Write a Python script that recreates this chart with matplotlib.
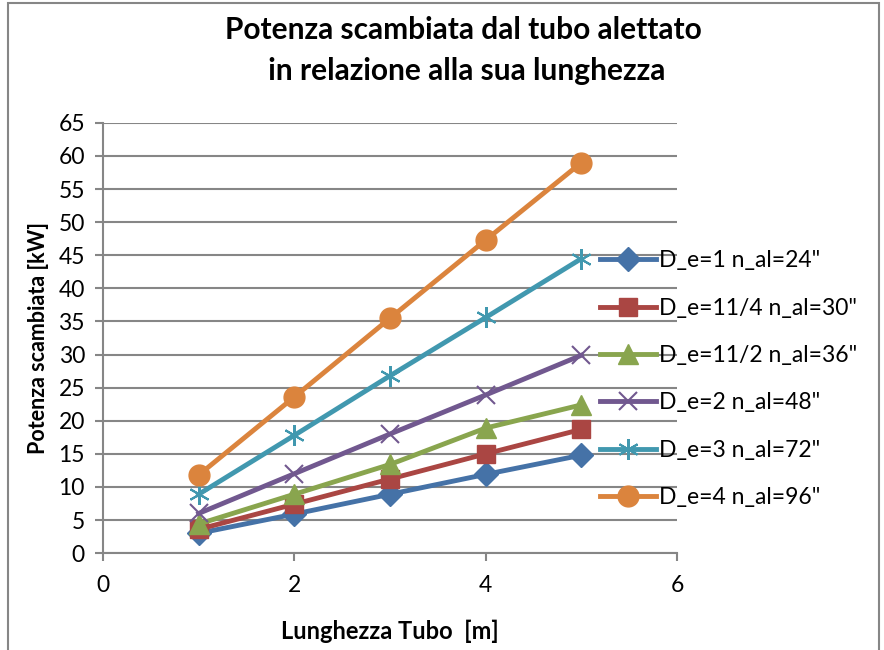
import matplotlib
matplotlib.use('Agg')
import matplotlib.pyplot as plt
from matplotlib.patches import Rectangle

plt.rcParams['font.family'] = ['Lato', 'DejaVu Sans']

# dati
lunghezza = [1, 2, 3, 4, 5]
etichette = ['D_e=1 n_al=24"', 'D_e=11/4 n_al=30"', 'D_e=11/2 n_al=36"',
             'D_e=2 n_al=48"', 'D_e=3 n_al=72"', 'D_e=4 n_al=96"']
p_de1 = [3.0, 5.9, 8.9, 11.9, 14.8]
p_de114 = [3.6, 7.4, 11.2, 15.0, 18.7]
p_de112 = [4.4, 8.9, 13.4, 18.9, 22.4]
p_de2 = [6.0, 12.0, 18.0, 23.9, 29.9]
p_de3 = [8.9, 17.8, 26.8, 35.6, 44.5]
p_de4 = [11.8, 23.6, 35.5, 47.3, 59.0]
serie = [p_de1, p_de114, p_de112, p_de2, p_de3, p_de4]

colori = ['#4572A7', '#AA4643', '#89A54E', '#71588F', '#4198AF', '#DB843D']
marker = ['D', 's', '^', 'x', (6, 2, 0), 'o']
msize = [12, 13, 14, 13, 15, 15]

fig = plt.figure(figsize=(8.84, 6.5), dpi=100)
# cornice grigia del grafico
fig.patches.append(Rectangle((8 / 884, -0.01), 871 / 884, 1.005, transform=fig.transFigure,
                             fill=False, edgecolor='#868686', lw=1.5))
ax = fig.add_axes([0.1165, 0.149, 0.6495, 0.662])

for y, lab, c, m, ms in zip(serie, etichette, colori, marker, msize):
    ax.plot(lunghezza, y, color=c, lw=3.5, marker=m, markersize=ms,
            markeredgewidth=1.5 if m in ('x', (6, 2, 0)) else 1,
            markeredgecolor=c, label=lab, zorder=3)

ax.set_xlim(0, 6)
ax.set_ylim(0, 65)
ax.set_xticks([0, 2, 4, 6])
ax.set_yticks(range(0, 66, 5))
ax.grid(axis='y', color='#868686', lw=1.5)
ax.set_axisbelow(True)
for s in ['top', 'right']:
    ax.spines[s].set_visible(False)
for s in ['left', 'bottom']:
    ax.spines[s].set_color('#868686')
    ax.spines[s].set_linewidth(1.5)
ax.tick_params(colors='#868686', labelcolor='black', labelsize=16.5, width=1.5, length=6)
ax.tick_params(axis='y', pad=7)
ax.tick_params(axis='x', pad=10)

ax.set_xlabel('Lunghezza Tubo  [m]', fontsize=17, fontweight='bold', labelpad=17)
ax.set_ylabel('Potenza scambiata [kW]', fontsize=15.5, fontweight='bold', labelpad=7)
fig.text(0.524, 0.976, 'Potenza scambiata dal tubo alettato\n in relazione alla sua lunghezza',
         ha='center', va='top', fontsize=21.5, fontweight='bold', linespacing=1.6)

ax.legend(loc='upper left', bbox_to_anchor=(0.85, 0.725), frameon=False,
          fontsize=16.5, handlelength=2.45, labelspacing=1.15, borderaxespad=0,
          handletextpad=0.1)

fig.savefig('out.png', dpi=100)
